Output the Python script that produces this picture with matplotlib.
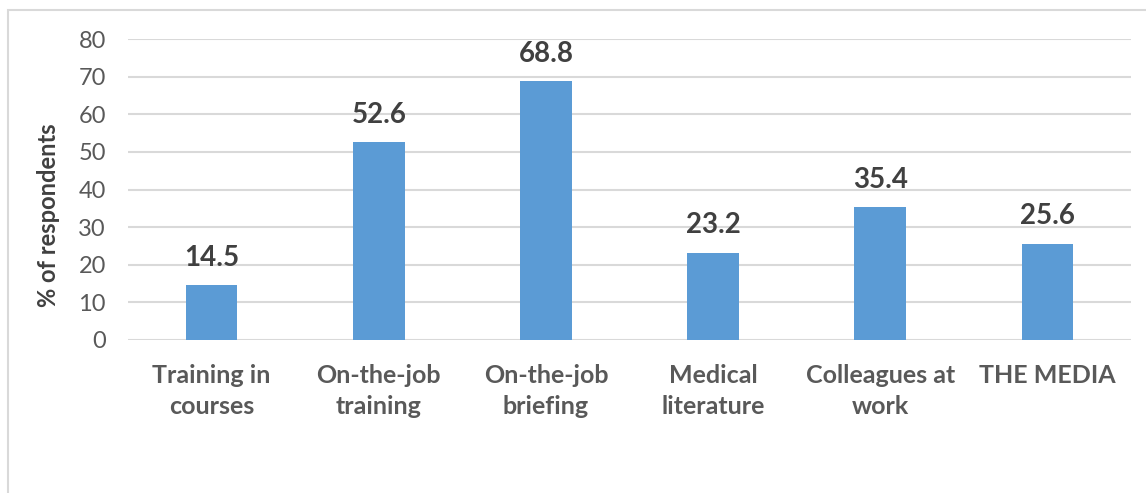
import matplotlib.pyplot as plt
import numpy as np

categories = ["Training in\ncourses", "On-the-job\ntraining", "On-the-job\nbriefing",
              "Medical\nliterature", "Colleagues at\nwork", "THE MEDIA"]
percents = [14.5, 52.6, 68.8, 23.2, 35.4, 25.6]
yticks = [0, 10, 20, 30, 40, 50, 60, 70, 80]

plt.rcParams['font.family'] = ['Lato', 'DejaVu Sans']

fig = plt.figure(figsize=(11.46, 4.93), dpi=100)
ax = fig.add_axes([128 / 1146, 1 - 340 / 493, (1131 - 128) / 1146, (340 - 39) / 493])

# frame round the chart, clipped at right and bottom like the source
border = plt.Rectangle((8 / 1146, -0.1), 1.2, 1 - 10 / 493 + 0.1, transform=fig.transFigure,
                       fill=False, edgecolor='#d9d9d9', linewidth=1.5)
fig.patches.append(border)

index = np.arange(len(categories))
ax.bar(index, percents, width=0.31, color='#5b9bd5', zorder=3)
for i in range(len(percents)):
    ax.text(index[i], percents[i] + 3.8, "%.1f" % percents[i], ha='center', va='bottom',
            fontsize=20, fontweight='bold', color='#404040')

ax.set_xlim(-0.5, len(categories) - 0.5)
ax.set_ylim(0, 80)
ax.set_yticks(yticks)
ax.set_xticks(index)
ax.set_xticklabels(categories, fontsize=18, fontweight='bold', color='#595959', linespacing=1.45)
ax.tick_params(axis='y', labelsize=17, labelcolor='#595959', length=0, pad=16)
ax.tick_params(axis='x', length=0, pad=17)
ax.grid(axis='y', color='#d9d9d9', linewidth=1.5, zorder=0)
for s in ax.spines.values():
    s.set_visible(False)
ax.set_ylabel("% of respondents", fontsize=17, fontweight='bold', color='#404040')
ax.yaxis.set_label_coords(-0.068, 0.415)

fig.savefig("out.png", dpi=100)
